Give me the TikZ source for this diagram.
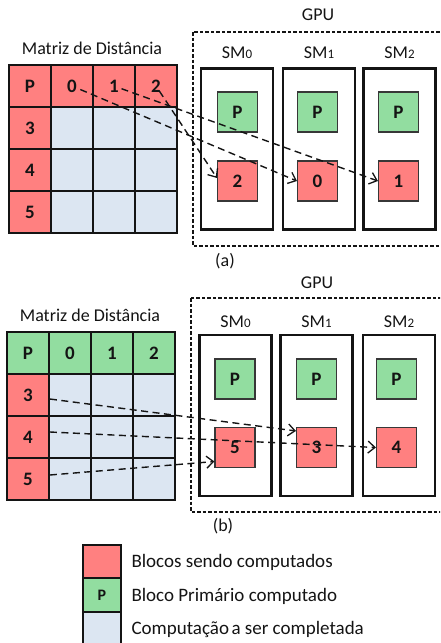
\documentclass[tikz,border=0pt]{standalone}
\usepackage{fontspec}
\setmainfont{Carlito}
\usetikzlibrary{arrows.meta,calc}
\definecolor{blkred}{RGB}{255,128,128}
\definecolor{blkgreen}{RGB}{146,221,160}
\definecolor{blkblue}{RGB}{220,230,242}
\definecolor{ink}{RGB}{20,20,20}
\begin{document}
\begin{tikzpicture}[x=1pt,y=-1pt,
  every node/.style={text=ink},
  lbl/.style={font=\fontsize{18}{18}\selectfont},
  legtext/.style={font=\fontsize{19}{19}\selectfont, anchor=west},
  cell/.style={draw=ink, line width=1.8pt, minimum size=42pt, inner sep=0pt, anchor=center,
    font=\bfseries\fontsize{19}{19}\selectfont},
  redc/.style={cell, fill=blkred},
  greenc/.style={cell, fill=blkgreen},
  bluec/.style={cell, fill=blkblue},
  smbox/.style={draw=ink, line width=2.4pt, minimum width=72pt, minimum height=161pt, inner sep=0pt},
  blk/.style={draw=ink!85, line width=1.1pt, minimum size=40pt, inner sep=0pt,
    font=\bfseries\fontsize{19}{19}\selectfont},
  legbox/.style={draw=ink, line width=1.6pt, minimum width=38pt, minimum height=33.5pt, inner sep=0pt,
    font=\bfseries\fontsize{16}{16}\selectfont},
  gpubox/.style={draw=ink, line width=1.1pt, dash pattern=on 3.5pt off 2pt},
  link/.style={draw=ink, line width=1.4pt, dash pattern=on 7pt off 4.5pt,
    -{Straight Barb[length=7pt,width=12pt,line width=1.3pt]}},
  sm/.style={font=\fontsize{18}{18}\selectfont},
]
\clip (0,0) rectangle (440,643);

% ---------------- (a) ----------------
\node[lbl] (tA) at (92,48) {Matriz de Distância};
% distance matrix, first row and first column being computed
\foreach \c/\t [count=\i from 0] in {P/P,0/0,1/1,2/2}
  \node[redc] (a\t) at (30+42*\i,86) {\c};
\foreach \r [count=\j from 1] in {3,4,5}{
  \node[redc] (a\r) at (30,86+42*\j) {\r};
  \foreach \i in {1,2,3}
    \node[bluec] (a\r-\i) at (30+42*\i,86+42*\j) {};
}
\node[lbl] (gpuA) at (318,15) {GPU};
\draw[gpubox] (193,32) rectangle (446,246);
\foreach \k/\x in {0/237,1/319,2/399.5}{
  \node[smbox] (smA\k) at (\x,149) {};
  \node[sm] (smlA\k) at (\x,53) {SM{\fontsize{13}{13}\selectfont\k}};
}
\foreach \k/\x in {0/237.5,1/317.5,2/398.5}
  \node[blk, fill=blkgreen] (pA\k) at (\x,112) {P};
\node[blk, fill=blkred] (rA2) at (237.5,181) {2};
\node[blk, fill=blkred] (rA0) at (317.5,181) {0};
\node[blk, fill=blkred] (rA1) at (398.5,181) {1};
\node[lbl] (capA) at (225,261) {(a)};
\draw[link, shorten <=9pt] (a0.center) -- (rA0.west);
\draw[link, shorten <=8pt] (a1.center) -- (rA1.west);
\draw[link, shorten <=6pt] (a2.center) -- ([yshift=3pt]rA2.west);

% ---------------- (b) ----------------
\node[lbl] (tB) at (90,315) {Matriz de Distância};
\foreach \c/\t [count=\i from 0] in {P/P,0/0,1/1,2/2}
  \node[greenc] (b\t) at (28+42*\i,353) {\c};
\foreach \r [count=\j from 1] in {3,4,5}{
  \node[redc] (b\r) at (28,353+42*\j) {\r};
  \foreach \i in {1,2,3}
    \node[bluec] (b\r-\i) at (28+42*\i,353+42*\j) {};
}
\node[lbl] (gpuB) at (317,283) {GPU};
\draw[gpubox] (191,298) rectangle (446,512);
\foreach \k/\x in {0/235.5,1/316.5,2/399}{
  \node[smbox] (smB\k) at (\x,415.5) {};
  \node[sm] (smlB\k) at (\x,322) {SM{\fontsize{13}{13}\selectfont\k}};
}
\foreach \k/\x in {0/235,1/316.5,2/396.5}
  \node[blk, fill=blkgreen] (pB\k) at (\x,379) {P};
\node[blk, fill=blkred] (rB5) at (235,447.5) {5};
\node[blk, fill=blkred] (rB3) at (316.5,447.5) {3};
\node[blk, fill=blkred] (rB4) at (396.5,447.5) {4};
\node[lbl] (capB) at (223,526) {(b)};
\draw[link] ([yshift=-4pt]b3.east) -- ([yshift=-4pt]rB3.north west);
\draw[link] ([yshift=5pt]b4.east) -- (rB4.west);
\draw[link] ([yshift=4pt]b5.east) -- ([yshift=-14pt]rB5.west);

% ---------------- legend ----------------
\node[legbox, fill=blkred] (lg1) at (102,561.5) {};
\node[legbox, fill=blkgreen] (lg2) at (102,595) {P};
\node[legbox, fill=blkblue] (lg3) at (102,628.5) {};
\node[legtext] (lt1) at (128,562) {Blocos sendo computados};
\node[legtext] (lt2) at (128,596) {Bloco Primário computado};
\node[legtext] (lt3) at (128,629) {Computação\hspace{2.5pt}a ser completada};
\end{tikzpicture}
\end{document}
